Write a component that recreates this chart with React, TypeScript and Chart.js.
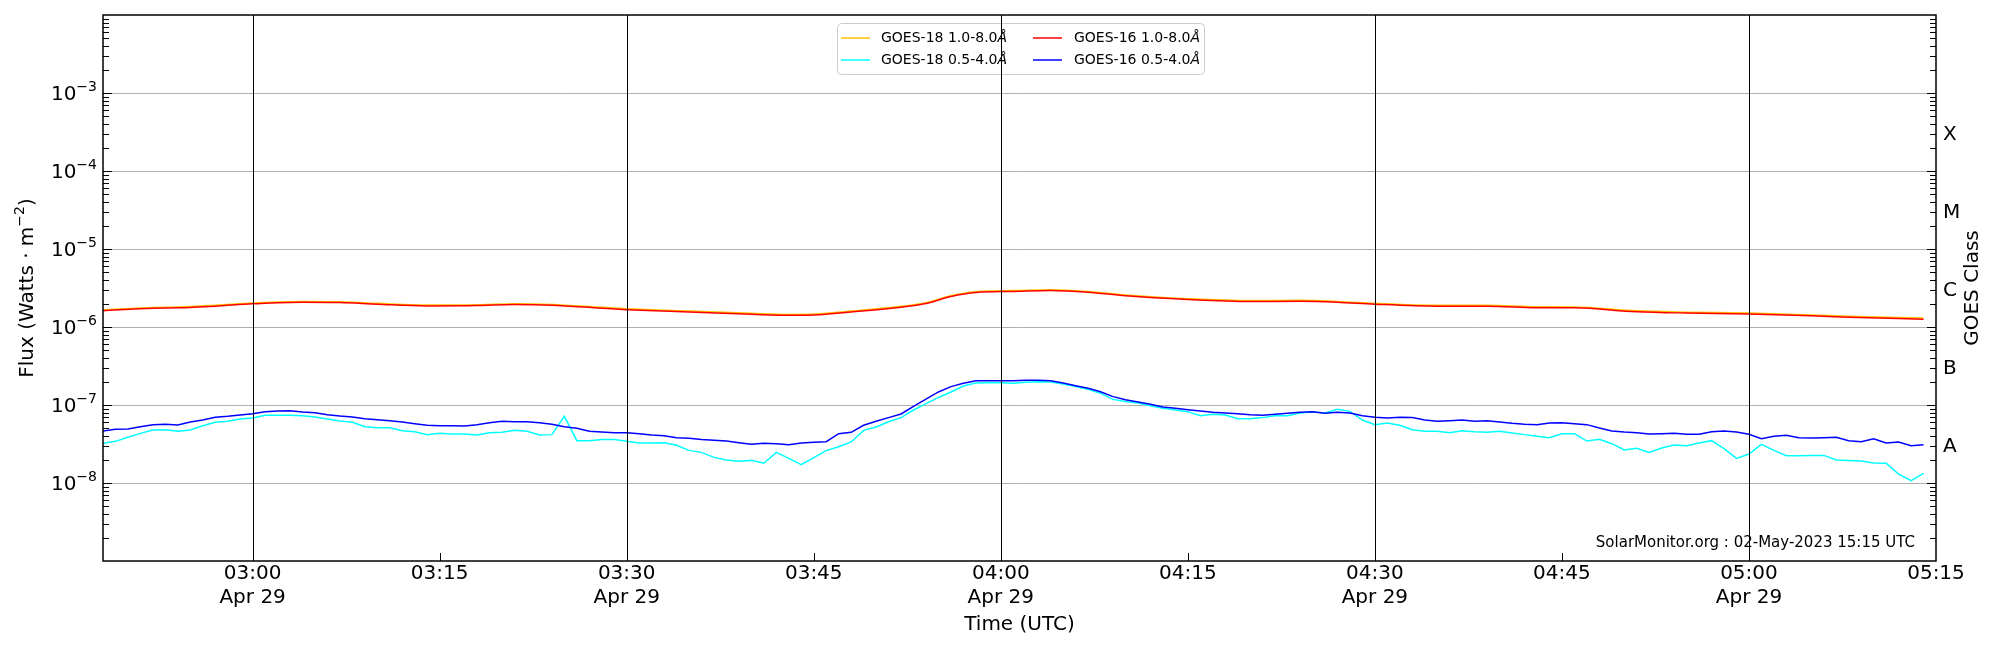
import React, { useEffect, useRef } from "react";
import { Chart, registerables } from "chart.js";

Chart.register(...registerables);

// ---- axis ranges (minutes since 00:00 UTC, 29 Apr 2023) ----
const X_MIN = 168; // 02:48
const X_MAX = 315; // 05:15

// ---- x tick labels ----
const TICK_MINUTES = [180, 195, 210, 225, 240, 255, 270, 285, 300, 315];
const TICK_LABELS: string[][] = [
  ["03:00", "Apr 29"],
  ["03:15"],
  ["03:30", "Apr 29"],
  ["03:45"],
  ["04:00", "Apr 29"],
  ["04:15"],
  ["04:30", "Apr 29"],
  ["04:45"],
  ["05:00", "Apr 29"],
  ["05:15"],
];

// ---- y tick labels (10 to the power of the exponent) ----
const Y_TICK_VALUES = [1e-8, 1e-7, 1e-6, 1e-5, 1e-4, 1e-3];
const Y_TICK_EXPONENTS = ["−8", "−7", "−6", "−5", "−4", "−3"];
const CLASS_TICKS = [3.16e-8, 3.16e-7, 3.16e-6, 3.16e-5, 3.16e-4];
const CLASS_LABELS = ["A", "B", "C", "M", "X"];

// ---- 1.0-8.0 Å channel sample times (minutes since 00:00) ----
const LONG_TIMES = [
  168, 172, 174, 177, 180, 184, 187, 190, 194, 198, 201, 204, 208, 210, 215,
  220, 223, 225, 228, 232, 234, 236, 238, 241, 244, 247, 250, 255, 260, 264,
  267, 270, 275, 279, 283, 286, 291, 295, 300, 305, 308, 314,
];

const GOES16_LONG = [
  1.62e-6, 1.74e-6, 1.76e-6, 1.85e-6, 1.98e-6, 2.08e-6, 2.06e-6, 1.96e-6, 1.86e-6,
  1.88e-6, 1.94e-6, 1.9e-6, 1.74e-6, 1.67e-6, 1.56e-6, 1.46e-6, 1.41e-6, 1.43e-6,
  1.56e-6, 1.79e-6, 2.0e-6, 2.46e-6, 2.77e-6, 2.86e-6, 2.94e-6, 2.79e-6, 2.51e-6,
  2.25e-6, 2.12e-6, 2.14e-6, 2.08e-6, 1.96e-6, 1.85e-6, 1.85e-6, 1.77e-6, 1.76e-6,
  1.57e-6, 1.51e-6, 1.47e-6, 1.39e-6, 1.33e-6, 1.26e-6,
];

const GOES18_LONG = [
  1.66e-6, 1.78e-6, 1.8e-6, 1.9e-6, 2.03e-6, 2.13e-6, 2.11e-6, 2.01e-6, 1.91e-6,
  1.93e-6, 1.99e-6, 1.95e-6, 1.79e-6, 1.72e-6, 1.6e-6, 1.5e-6, 1.45e-6, 1.47e-6,
  1.6e-6, 1.84e-6, 2.05e-6, 2.52e-6, 2.84e-6, 2.93e-6, 3.01e-6, 2.86e-6, 2.58e-6,
  2.31e-6, 2.18e-6, 2.2e-6, 2.13e-6, 2.01e-6, 1.9e-6, 1.9e-6, 1.82e-6, 1.81e-6,
  1.61e-6, 1.55e-6, 1.51e-6, 1.43e-6, 1.37e-6, 1.3e-6,
];

// ---- 0.5-4.0 Å channel: one-minute samples from 02:48 to 05:14 ----
const SHORT_START = 168;
const GOES18_SHORT = [
  3.23e-8, 3.42e-8, 3.85e-8, 4.33e-8, 4.78e-8, 4.83e-8, 4.6e-8, 4.78e-8, 5.43e-8, 6.0e-8,
  6.18e-8, 6.62e-8, 6.81e-8, 7.38e-8, 7.38e-8, 7.38e-8, 7.3e-8, 7.02e-8, 6.62e-8, 6.24e-8,
  6.0e-8, 5.27e-8, 5.12e-8, 5.12e-8, 4.69e-8, 4.55e-8, 4.17e-8, 4.33e-8, 4.25e-8, 4.25e-8,
  4.12e-8, 4.42e-8, 4.46e-8, 4.73e-8, 4.6e-8, 4.12e-8, 4.17e-8, 7.16e-8, 3.49e-8, 3.49e-8,
  3.6e-8, 3.6e-8, 3.42e-8, 3.26e-8, 3.26e-8, 3.29e-8, 3.04e-8, 2.62e-8, 2.47e-8, 2.13e-8,
  1.97e-8, 1.9e-8, 1.95e-8, 1.79e-8, 2.47e-8, 2.07e-8, 1.72e-8, 2.11e-8, 2.6e-8, 2.92e-8,
  3.36e-8, 4.73e-8, 5.22e-8, 6.11e-8, 6.89e-8, 8.63e-8, 1.04e-7, 1.25e-7, 1.47e-7, 1.75e-7,
  1.91e-7, 1.93e-7, 1.93e-7, 1.9e-7, 1.96e-7, 1.99e-7, 1.97e-7, 1.86e-7, 1.72e-7, 1.59e-7,
  1.41e-7, 1.18e-7, 1.11e-7, 1.06e-7, 9.81e-8, 9.06e-8, 8.63e-8, 8.22e-8, 7.3e-8, 7.59e-8,
  7.44e-8, 6.68e-8, 6.68e-8, 6.89e-8, 7.3e-8, 7.3e-8, 7.89e-8, 8.13e-8, 7.89e-8, 8.8e-8,
  8.29e-8, 6.42e-8, 5.6e-8, 5.88e-8, 5.49e-8, 4.83e-8, 4.6e-8, 4.6e-8, 4.42e-8, 4.69e-8,
  4.55e-8, 4.46e-8, 4.6e-8, 4.38e-8, 4.17e-8, 3.97e-8, 3.81e-8, 4.29e-8, 4.29e-8, 3.45e-8,
  3.63e-8, 3.19e-8, 2.65e-8, 2.78e-8, 2.47e-8, 2.81e-8, 3.07e-8, 3.01e-8, 3.26e-8, 3.49e-8,
  2.75e-8, 2.07e-8, 2.35e-8, 3.13e-8, 2.62e-8, 2.24e-8, 2.24e-8, 2.26e-8, 2.26e-8, 1.97e-8,
  1.95e-8, 1.91e-8, 1.8e-8, 1.79e-8, 1.3e-8, 1.07e-8, 1.33e-8,
];

const GOES16_SHORT = [
  4.64e-8, 4.88e-8, 4.92e-8, 5.27e-8, 5.6e-8, 5.65e-8, 5.54e-8, 6.05e-8, 6.42e-8, 6.95e-8,
  7.16e-8, 7.44e-8, 7.74e-8, 8.22e-8, 8.38e-8, 8.46e-8, 8.13e-8, 7.98e-8, 7.52e-8, 7.23e-8,
  7.02e-8, 6.68e-8, 6.48e-8, 6.3e-8, 6.05e-8, 5.76e-8, 5.49e-8, 5.43e-8, 5.43e-8, 5.38e-8,
  5.6e-8, 5.94e-8, 6.18e-8, 6.11e-8, 6.11e-8, 5.94e-8, 5.65e-8, 5.27e-8, 5.02e-8, 4.6e-8,
  4.51e-8, 4.42e-8, 4.42e-8, 4.29e-8, 4.12e-8, 4.04e-8, 3.81e-8, 3.74e-8, 3.6e-8, 3.52e-8,
  3.45e-8, 3.29e-8, 3.13e-8, 3.23e-8, 3.19e-8, 3.1e-8, 3.26e-8, 3.32e-8, 3.39e-8, 4.29e-8,
  4.46e-8, 5.49e-8, 6.18e-8, 6.89e-8, 7.67e-8, 9.61e-8, 1.19e-7, 1.47e-7, 1.72e-7, 1.9e-7,
  2.05e-7, 2.05e-7, 2.05e-7, 2.05e-7, 2.07e-7, 2.07e-7, 2.05e-7, 1.91e-7, 1.77e-7, 1.64e-7,
  1.48e-7, 1.28e-7, 1.17e-7, 1.09e-7, 1.02e-7, 9.42e-8, 9.06e-8, 8.71e-8, 8.38e-8, 8.05e-8,
  7.89e-8, 7.74e-8, 7.52e-8, 7.38e-8, 7.59e-8, 7.82e-8, 8.05e-8, 8.22e-8, 7.82e-8, 8.05e-8,
  7.89e-8, 7.3e-8, 6.95e-8, 6.81e-8, 6.95e-8, 6.89e-8, 6.42e-8, 6.18e-8, 6.3e-8, 6.42e-8,
  6.18e-8, 6.3e-8, 6.05e-8, 5.82e-8, 5.65e-8, 5.6e-8, 5.88e-8, 5.94e-8, 5.76e-8, 5.6e-8,
  5.07e-8, 4.64e-8, 4.51e-8, 4.42e-8, 4.25e-8, 4.29e-8, 4.33e-8, 4.21e-8, 4.21e-8, 4.55e-8,
  4.64e-8, 4.51e-8, 4.21e-8, 3.7e-8, 3.97e-8, 4.08e-8, 3.81e-8, 3.77e-8, 3.81e-8, 3.85e-8,
  3.49e-8, 3.39e-8, 3.7e-8, 3.26e-8, 3.36e-8, 3.01e-8, 3.1e-8,
];

const SHORT_TIMES = GOES16_SHORT.map((_, i) => SHORT_START + i);

// ---- series labels & colours ----
const SERIES_LABELS = ["GOES-18 1.0-8.0", "GOES-18 0.5-4.0", "GOES-16 1.0-8.0", "GOES-16 0.5-4.0"];
const SERIES_COLORS = ["#ffc000", "#00ffff", "#ff0000", "#0000ff"];

const FONT = "DejaVu Sans";
const WATERMARK = "SolarMonitor.org : 02-May-2023 15:15 UTC";
const Y_TITLE = ["Flux (Watts · m", "−2", ")"];

const noScalePadding = (s: any) => {
  s.paddingTop = 0;
  s.paddingBottom = 0;
};

const overlayPlugin = {
  id: "overlay",
  afterDatasetsDraw(chart: any) {
    const { ctx, chartArea: a } = chart;
    const xs = chart.scales.x;
    const ys = chart.scales.y;
    const y2 = chart.scales.y2;
    ctx.save();

    // legend (matplotlib style, 2 columns, column-major)
    const lw = 367;
    const lh = 51;
    const lx = (a.left + a.right) / 2 - lw / 2 + 1;
    const ly = a.top + 8;
    ctx.beginPath();
    if ((ctx as any).roundRect) (ctx as any).roundRect(lx + 0.5, ly + 0.5, lw, lh, 4);
    else ctx.rect(lx + 0.5, ly + 0.5, lw, lh);
    ctx.fillStyle = "rgba(255,255,255,0.8)";
    ctx.fill();
    ctx.strokeStyle = "#cccccc";
    ctx.lineWidth = 1;
    ctx.stroke();
    SERIES_LABELS.forEach((label, i) => {
      const col = i < 2 ? 0 : 1;
      const row = i % 2;
      const hx = lx + (col ? 196 : 4);
      const hy = ly + (row ? 37 : 15);
      ctx.beginPath();
      ctx.strokeStyle = SERIES_COLORS[i];
      ctx.lineWidth = 1.5;
      ctx.moveTo(hx, hy);
      ctx.lineTo(hx + 29, hy);
      ctx.stroke();
      const tx = lx + (col ? 237 : 44);
      ctx.fillStyle = "#000";
      ctx.textBaseline = "middle";
      ctx.textAlign = "left";
      ctx.font = `14px "${FONT}"`;
      ctx.fillText(label, tx, hy);
      const w = ctx.measureText(label).width;
      ctx.font = `italic 14px "${FONT}"`;
      ctx.fillText("Å", tx + w, hy);
    });

    // vertical black lines at the half hours
    ctx.strokeStyle = "#000";
    ctx.lineWidth = 1;
    TICK_MINUTES.forEach((v) => {
      if (v % 30 !== 0 || v >= X_MAX) return;
      const px = Math.round(xs.getPixelForValue(v)) + 0.5;
      ctx.beginPath();
      ctx.moveTo(px, a.top);
      ctx.lineTo(px, a.bottom);
      ctx.stroke();
    });

    // inward x ticks
    TICK_MINUTES.forEach((v) => {
      if (v >= X_MAX) return;
      const px = Math.round(xs.getPixelForValue(v)) + 0.5;
      ctx.beginPath();
      ctx.moveTo(px, a.bottom);
      ctx.lineTo(px, a.bottom - 8);
      ctx.stroke();
    });

    // inward y ticks (major + minor), both sides
    for (let n = -9; n <= -3; n++) {
      for (let k = 1; k <= 9; k++) {
        const v = k * Math.pow(10, n);
        if (v <= 1.0001e-9 || v >= 0.999e-2) continue;
        const py = Math.round(ys.getPixelForValue(v)) + 0.5;
        const len = k === 1 ? 9 : 6;
        ctx.beginPath();
        ctx.moveTo(a.left, py);
        ctx.lineTo(a.left + len, py);
        ctx.moveTo(a.right, py);
        ctx.lineTo(a.right - len, py);
        ctx.stroke();
      }
    }

    // frame
    ctx.lineWidth = 1.5;
    ctx.strokeRect(a.left, a.top, a.right - a.left, a.bottom - a.top);

    // y tick labels with superscript exponents
    ctx.fillStyle = "#000";
    ctx.textBaseline = "alphabetic";
    ctx.textAlign = "left";
    Y_TICK_VALUES.forEach((v, i) => {
      const py = ys.getPixelForValue(v);
      ctx.font = `20px "${FONT}"`;
      const wb = ctx.measureText("10").width;
      ctx.font = `14px "${FONT}"`;
      const we = ctx.measureText(Y_TICK_EXPONENTS[i]).width;
      const x0 = a.left - 6 - wb - we;
      ctx.font = `20px "${FONT}"`;
      ctx.fillText("10", x0, py + 7);
      ctx.font = `14px "${FONT}"`;
      ctx.fillText(Y_TICK_EXPONENTS[i], x0 + wb, py - 2);
    });

    // GOES class letters (right axis)
    ctx.font = `20px "${FONT}"`;
    CLASS_TICKS.forEach((v, i) => {
      const py = y2.getPixelForValue(v);
      ctx.fillText(CLASS_LABELS[i], a.right + 7, py + 7.5);
    });

    // y title with superscript
    ctx.save();
    ctx.translate(26, (a.top + a.bottom) / 2);
    ctx.rotate(-Math.PI / 2);
    ctx.font = `20px "${FONT}"`;
    const w1 = ctx.measureText(Y_TITLE[0]).width;
    const w3 = ctx.measureText(Y_TITLE[2]).width;
    ctx.font = `14px "${FONT}"`;
    const w2 = ctx.measureText(Y_TITLE[1]).width;
    const sx = -(w1 + w2 + w3) / 2;
    ctx.font = `20px "${FONT}"`;
    ctx.fillText(Y_TITLE[0], sx, 7);
    ctx.fillText(Y_TITLE[2], sx + w1 + w2, 7);
    ctx.font = `14px "${FONT}"`;
    ctx.fillText(Y_TITLE[1], sx + w1, -2);
    ctx.restore();

    // watermark
    ctx.font = `15px "${FONT}"`;
    ctx.textAlign = "right";
    ctx.textBaseline = "middle";
    ctx.fillText(WATERMARK, a.right - 21, a.bottom - 18);

    // GOES Class title (reads bottom to top)
    ctx.save();
    ctx.translate(a.right + 37, (a.top + a.bottom) / 2);
    ctx.rotate(-Math.PI / 2);
    ctx.font = `20px "${FONT}"`;
    ctx.textAlign = "center";
    ctx.textBaseline = "middle";
    ctx.fillText("GOES Class", 0, 0);
    ctx.restore();

    ctx.restore();
  },
};

export default function App() {
  const ref = useRef<HTMLCanvasElement>(null);

  useEffect(() => {
    if (!ref.current) return;
    Chart.defaults.font.family = FONT;
    Chart.defaults.color = "#000";

    const longData = (vals: number[]) => LONG_TIMES.map((t, i) => ({ x: t, y: vals[i] }));
    const shortData = (vals: number[]) => SHORT_TIMES.map((t, i) => ({ x: t, y: vals[i] }));

    const chart = new Chart(ref.current, {
      type: "line",
      data: {
        datasets: [
          {
            label: SERIES_LABELS[0] + "Å",
            data: longData(GOES18_LONG),
            borderColor: SERIES_COLORS[0],
            borderWidth: 1.5,
            pointRadius: 0,
            cubicInterpolationMode: "monotone",
            order: 4,
          },
          {
            label: SERIES_LABELS[1] + "Å",
            data: shortData(GOES18_SHORT),
            borderColor: SERIES_COLORS[1],
            borderWidth: 1.5,
            pointRadius: 0,
            tension: 0,
            order: 3,
          },
          {
            label: SERIES_LABELS[2] + "Å",
            data: longData(GOES16_LONG),
            borderColor: SERIES_COLORS[2],
            borderWidth: 1.5,
            pointRadius: 0,
            cubicInterpolationMode: "monotone",
            order: 2,
          },
          {
            label: SERIES_LABELS[3] + "Å",
            data: shortData(GOES16_SHORT),
            borderColor: SERIES_COLORS[3],
            borderWidth: 1.5,
            pointRadius: 0,
            tension: 0,
            order: 1,
          },
        ],
      },
      options: {
        animation: false,
        responsive: true,
        maintainAspectRatio: false,
        layout: { padding: { top: 15, left: 0, right: 0, bottom: 0 } },
        plugins: {
          legend: { display: false },
          tooltip: { enabled: false },
        },
        scales: {
          x: {
            type: "linear",
            min: X_MIN,
            max: X_MAX,
            afterBuildTicks: (s: any) => {
              s.ticks = TICK_MINUTES.map((v) => ({ value: v }));
            },
            afterFit: (s: any) => {
              s.height = 89;
            },
            grid: { display: false, drawTicks: false },
            border: { display: false },
            ticks: {
              autoSkip: false,
              maxRotation: 0,
              padding: 1,
              font: { size: 20 },
              color: "#000",
              callback: (_v: any, i: number) => TICK_LABELS[i],
            },
            title: {
              display: true,
              text: "Time (UTC)",
              font: { size: 20 },
              color: "#000",
              padding: { top: 0, bottom: 13 },
            },
          },
          y: {
            type: "logarithmic",
            position: "left",
            min: 1e-9,
            max: 1e-2,
            afterBuildTicks: (s: any) => {
              s.ticks = Y_TICK_VALUES.map((v) => ({ value: v }));
            },
            afterFit: (s: any) => {
              s.width = 103;
              noScalePadding(s);
            },
            grid: { color: "#b0b0b0", lineWidth: 1, drawTicks: false },
            border: { display: false },
            ticks: {
              padding: 0,
              font: { size: 20 },
              callback: () => "",
            },
          },
          y2: {
            type: "logarithmic",
            position: "right",
            min: 1e-9,
            max: 1e-2,
            afterBuildTicks: (s: any) => {
              s.ticks = CLASS_TICKS.map((v) => ({ value: v }));
            },
            afterFit: (s: any) => {
              s.width = 64;
              noScalePadding(s);
            },
            grid: { display: false, drawTicks: false },
            border: { display: false },
            ticks: {
              padding: 0,
              font: { size: 20 },
              callback: () => "",
            },
          },
        },
      } as any,
      plugins: [overlayPlugin],
    });

    return () => chart.destroy();
  }, []);

  return (
    <div
      style={{
        position: "fixed",
        left: 0,
        top: 0,
        width: 2000,
        height: 650,
        background: "#ffffff",
      }}
    >
      <canvas ref={ref} />
    </div>
  );
}
